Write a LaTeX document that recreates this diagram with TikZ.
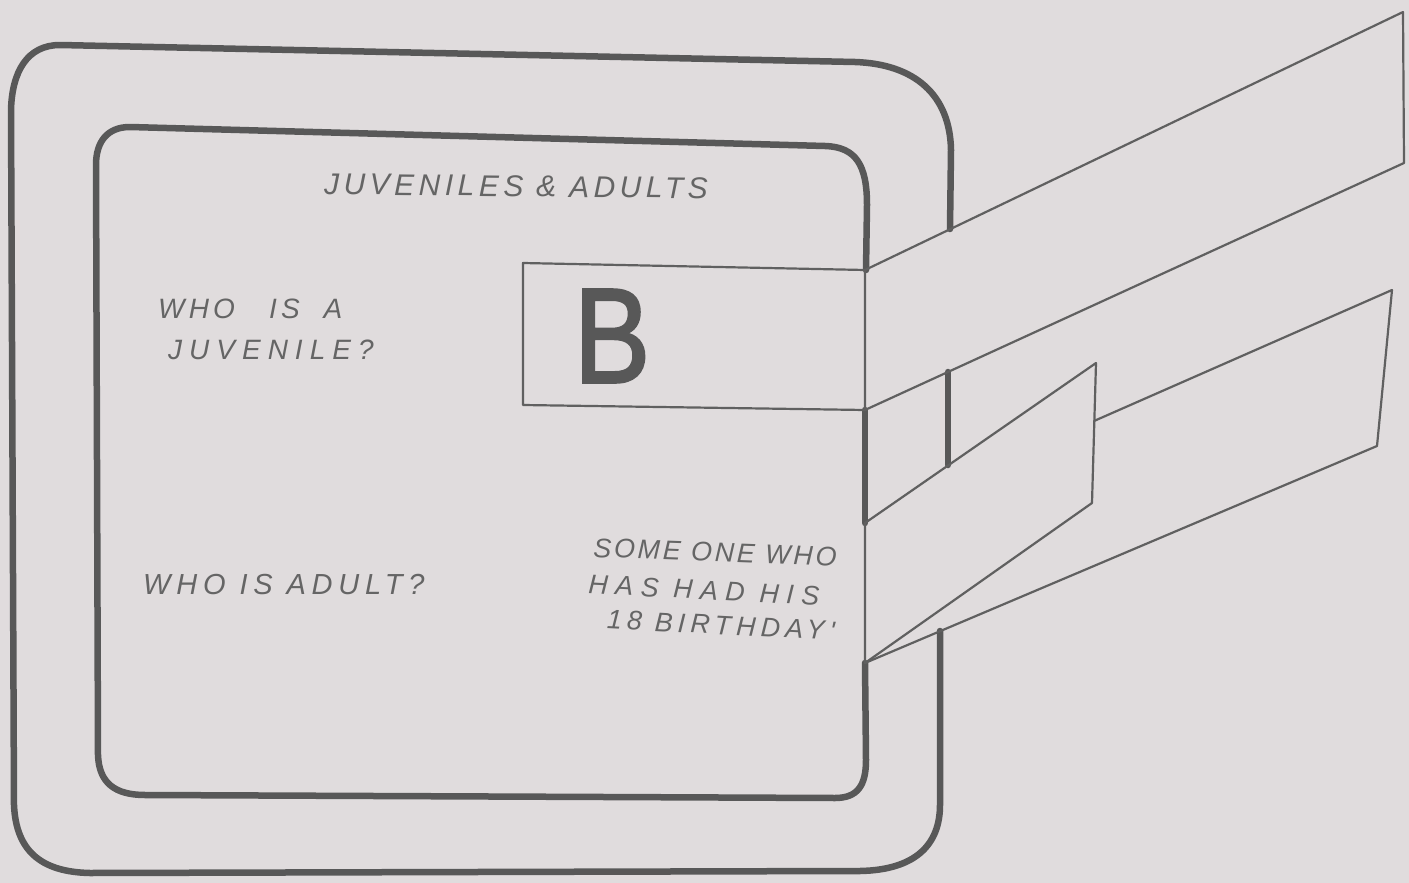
\documentclass[tikz,border=0pt]{standalone}
\usepackage{fontspec}
\setmainfont{Liberation Sans}
\newfontfamily\handfont{Liberation Sans}
\definecolor{paper}{HTML}{E0DCDD}
\definecolor{ink}{HTML}{585858}
\definecolor{pencil}{HTML}{606060}
\definecolor{script}{HTML}{656565}
\newcommand\hsz[2]{\handfont\itshape\fontsize{#1}{#1}\selectfont\addfontfeatures{LetterSpace=#2}}
\begin{document}
\begin{tikzpicture}[x=1pt,y=-1pt,
  frame/.style={draw=ink,line width=6.5pt,line cap=round,line join=round},
  sheet/.style={draw=pencil,line width=2.2pt,line cap=round,line join=round},
  hand/.style={text=script,inner sep=0pt,text height=20pt,text depth=0pt}]
\useasboundingbox (0,0) rectangle (1409,883);
\fill[paper] (0,0) rectangle (1409,883);
% outer frame
\draw[frame] (950,229) -- (951,150) .. controls (950,95) and (915,64) .. (855,62)
  -- (60,45) .. controls (27,45) and (12,72) .. (11,110)
  -- (14,805) .. controls (16,850) and (40,872) .. (90,873)
  -- (860,871) .. controls (915,870) and (940,845) .. (940,805) -- (940,631);
\draw[frame] (948,372) -- (948,465);
% inner frame
\draw[frame] (866,270) -- (867,205) .. controls (867,165) and (856,147) .. (825,146)
  -- (130,127) .. controls (107,127) and (96,142) .. (96,165)
  -- (98,755) .. controls (99,783) and (115,795) .. (145,795)
  -- (835,798) .. controls (858,798) and (866,785) .. (866,760) -- (865,663);
\draw[frame] (865,410) -- (865,523);
% sheets
\coordinate (b1) at (523,263);
\coordinate (b2) at (523,405);
\coordinate (a1) at (865,270);
\coordinate (a2) at (865,410);
\coordinate (a3) at (1403,12);
\coordinate (a4) at (1404,163);
\coordinate (c1) at (865,523);
\coordinate (c2) at (1096,363);
\coordinate (c3) at (1092,503);
\coordinate (c4) at (865,663);
\coordinate (d1) at (1094,421);
\coordinate (d2) at (1392,290);
\coordinate (d3) at (1377,446);
\draw[sheet] (a1) -- (b1) -- (b2) -- (a2);
\draw[sheet] (a2) -- (a1) -- (a3) -- (a4) -- (a2);
\draw[sheet] (c1) -- (c2) -- (c3) -- (c4) -- cycle;
\draw[sheet] (d1) -- (d2) -- (d3) -- (c4);
% texts
\node[hand,rotate=-0.6,text height=21pt] (title) at (516,186) {\hsz{30}{15}JUVENILES \& ADULTS};
\node[hand,anchor=west] (q1a) at (158,308) {\hsz{28}{15}WHO\hspace{34pt}IS\hspace{24pt}A};
\node[hand,anchor=west] (q1b) at (168,349) {\hsz{28}{25}JUVENILE?};
\node[hand,anchor=west,text height=21pt] (q2) at (143,584) {\hsz{29}{20}WHO IS ADULT?};
\node[hand,rotate=-2,text height=19pt] (ans1) at (715,552) {\hsz{27}{10}SOME ONE WHO};
\node[hand,rotate=-3,text height=19pt] (ans2) at (704,590) {\hsz{27}{27}HAS HAD HIS};
\node[hand,rotate=-3,text height=19pt] (ans3) at (721,625) {\hsz{27}{19}18 BIRTHDAY'};
\node[text=ink,inner sep=0pt] (bl) at (612,336) {\scalebox{0.85}[1]{\fontsize{135}{135}\selectfont\addfontfeatures{FakeBold=2}B}};
\end{tikzpicture}
\end{document}
